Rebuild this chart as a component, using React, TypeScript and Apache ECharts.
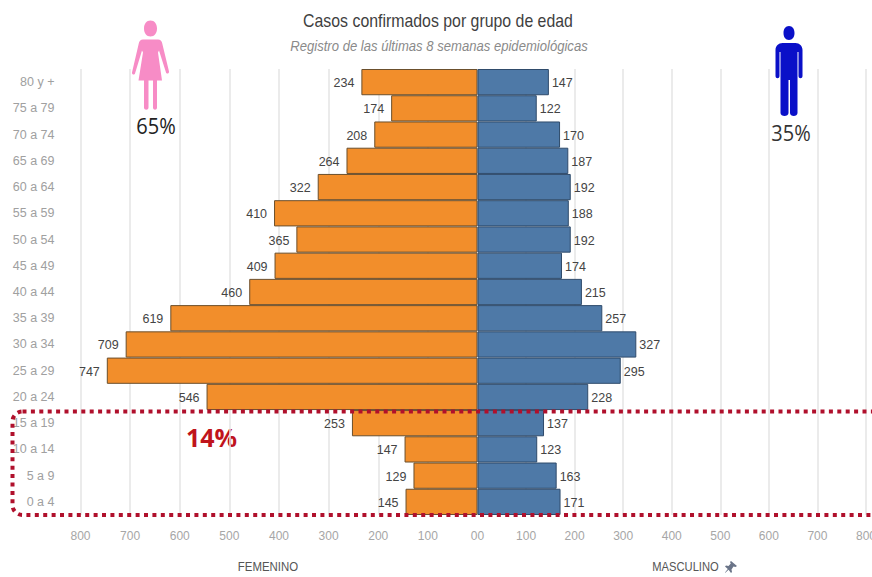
import React, { useEffect, useRef } from "react";
import * as echarts from "echarts";

const ageGroups = ["80 y +", "75 a 79", "70 a 74", "65 a 69", "60 a 64", "55 a 59", "50 a 54", "45 a 49", "40 a 44", "35 a 39", "30 a 34", "25 a 29", "20 a 24", "15 a 19", "10 a 14", "5 a 9", "0 a 4"];
const femaleCases = [234, 174, 208, 264, 322, 410, 365, 409, 460, 619, 709, 747, 546, 253, 147, 129, 145];
const maleCases = [147, 122, 170, 187, 192, 188, 192, 174, 215, 257, 327, 295, 228, 137, 123, 163, 171];

const FONT = '"Liberation Sans", sans-serif';

const WOMAN_ICON =
  "M19.5 1C23.5 1 26 4.5 26 9C26 13.5 23.5 17 19.5 17C15.5 17 13 13.5 13 9C13 4.5 15.5 1 19.5 1Z" +
  "M12 20L27 20C29.5 20 30.5 21.5 31 23L38 52C38.4 54 35.6 55 35 53L28 31L27 33L31 61L26 61L26 88C26 91 22 91 22 88L22 61L17.5 61L17.5 88C17.5 91 13 91 13 88L13 61L7.5 61L12 33L11 31L4 54C3.4 56 .6 55 1 53L8 23C8.5 21.5 9.5 20 12 20Z";

const MAN_ICON =
  "M13.5 0C17 0 19 3 19 7C19 11 17 14 13.5 14C10 14 8 11 8 7C8 3 10 0 13.5 0Z" +
  "M7 17L20 17C24 17 27 20 27 24L27 50C27 53 23 53 23 50L23 26L22 26L22 87C22 91 14.5 91 14.5 87L14.5 54L13 54L13 87C13 91 5 91 5 87L5 26L4 26L4 50C4 53 0 53 0 50L0 24C0 20 3 17 7 17Z";

const PIN_ICON =
  "M6 0L12 5L10.5 6L8.5 5.5L6.5 8.5L7 11L6 12L3.6 8.8L0 12L0 11.5L2.8 8L0 5.6L1 4.6L3.5 5L5.8 2.6L5 1Z";

echarts.graphic.registerShape("womanIcon", echarts.graphic.extendPath(WOMAN_ICON, {}));
echarts.graphic.registerShape("manIcon", echarts.graphic.extendPath(MAN_ICON, {}));
echarts.graphic.registerShape("pinIcon", echarts.graphic.extendPath(PIN_ICON, {}));

const GRID_TOP = 69;
const GRID_HEIGHT = 446;

const axisLabel = { color: "#a6a6a6", fontFamily: FONT, fontSize: 12, margin: 15 };
const gridLine = { show: true, lineStyle: { color: "#e4e4e4", width: 1.5 } };

function barSeries(
  name: string,
  data: number[],
  index: number,
  fill: string,
  edge: string,
  side: "left" | "right"
) {
  return {
    name,
    type: "bar",
    xAxisIndex: index,
    yAxisIndex: index,
    data,
    barWidth: "100%",
    itemStyle: { color: fill, borderColor: edge, borderWidth: 1 },
    label: {
      show: true,
      position: side,
      distance: 5,
      offset: [-2, 1],
      color: "#444444",
      fontFamily: FONT,
      fontSize: 12.5,
    },
  };
}

// Centred text squeezed horizontally to reach the condensed look of the headings.
function squeezedText(text: string, x: number, y: number, font: string, fill: string, scaleX: number) {
  return {
    type: "text",
    x,
    y,
    scaleX,
    style: { text, fill, font, align: "center", verticalAlign: "middle" },
  };
}

export default function App() {
  const ref = useRef<HTMLDivElement>(null);

  useEffect(() => {
    const chart = echarts.init(ref.current!, null, { renderer: "svg" });
    chart.setOption({
      animation: false,
      backgroundColor: "#ffffff",
      grid: [
        { left: 80.5, width: 397, top: GRID_TOP, height: GRID_HEIGHT, outerBoundsMode: "none" },
        { left: 477.5, width: 388.5, top: GRID_TOP, height: GRID_HEIGHT, outerBoundsMode: "none" },
      ],
      xAxis: [
        {
          type: "value",
          gridIndex: 0,
          inverse: true,
          min: 0,
          max: 800,
          interval: 100,
          axisLine: { show: false },
          axisTick: { show: false },
          axisLabel: { ...axisLabel, alignMinLabel: "right" },
          splitLine: gridLine,
        },
        {
          type: "value",
          gridIndex: 1,
          min: 0,
          max: 800,
          interval: 100,
          axisLine: { show: false },
          axisTick: { show: false },
          axisLabel: { ...axisLabel, alignMinLabel: "left" },
          splitLine: gridLine,
        },
      ],
      yAxis: [
        {
          type: "category",
          gridIndex: 0,
          inverse: true,
          data: ageGroups,
          axisLine: { show: false },
          axisTick: { show: false },
          axisLabel: {
            color: "#a0a0a0",
            fontFamily: FONT,
            fontSize: 12.5,
            margin: 26,
            padding: [3, 0, 0, 0],
          },
        },
        {
          type: "category",
          gridIndex: 1,
          inverse: true,
          data: ageGroups,
          axisLine: { show: false },
          axisTick: { show: false },
          axisLabel: { show: false },
        },
      ],
      series: [
        barSeries("FEMENINO", femaleCases, 0, "#f28e2b", "#6b4f2c", "left"),
        barSeries("MASCULINO", maleCases, 1, "#4e79a7", "#2f4b6b", "right"),
      ],
      graphic: [
        squeezedText("Casos confirmados por grupo de edad", 438, 20, `19px ${FONT}`, "#3f3f3f", 0.835),
        squeezedText("Registro de las últimas 8 semanas epidemiológicas", 439, 46, `italic 14px ${FONT}`, "#8a8a8a", 0.935),
        { type: "womanIcon", x: 131, y: 19.5, style: { fill: "#f78cc6" } },
        { type: "manIcon", x: 775.5, y: 26, style: { fill: "#0a10c8" } },
        squeezedText("65%", 156, 126, '22px "Open Sans", sans-serif', "#222222", 0.91),
        squeezedText("35%", 791, 133, '22px "Open Sans", sans-serif', "#333333", 0.91),
        squeezedText("14%", 211.5, 437, 'bold 25px "Open Sans", sans-serif', "#c0141c", 1),
        {
          type: "rect",
          shape: { x: 12.5, y: 411.5, width: 920, height: 103.5, r: 10 },
          style: { fill: "none", stroke: "#b0102c", lineWidth: 4, lineDash: [4, 4.4] },
          z: 20,
        },
        squeezedText("FEMENINO", 268, 567, `13px ${FONT}`, "#555555", 0.88),
        squeezedText("MASCULINO", 685.5, 567, `13px ${FONT}`, "#555555", 0.86),
        { type: "pinIcon", x: 725, y: 561, style: { fill: "#6a7488" } },
      ],
    });
    return () => chart.dispose();
  }, []);

  return <div ref={ref} style={{ position: "fixed", left: 0, top: 0, width: 872, height: 577 }} />;
}
